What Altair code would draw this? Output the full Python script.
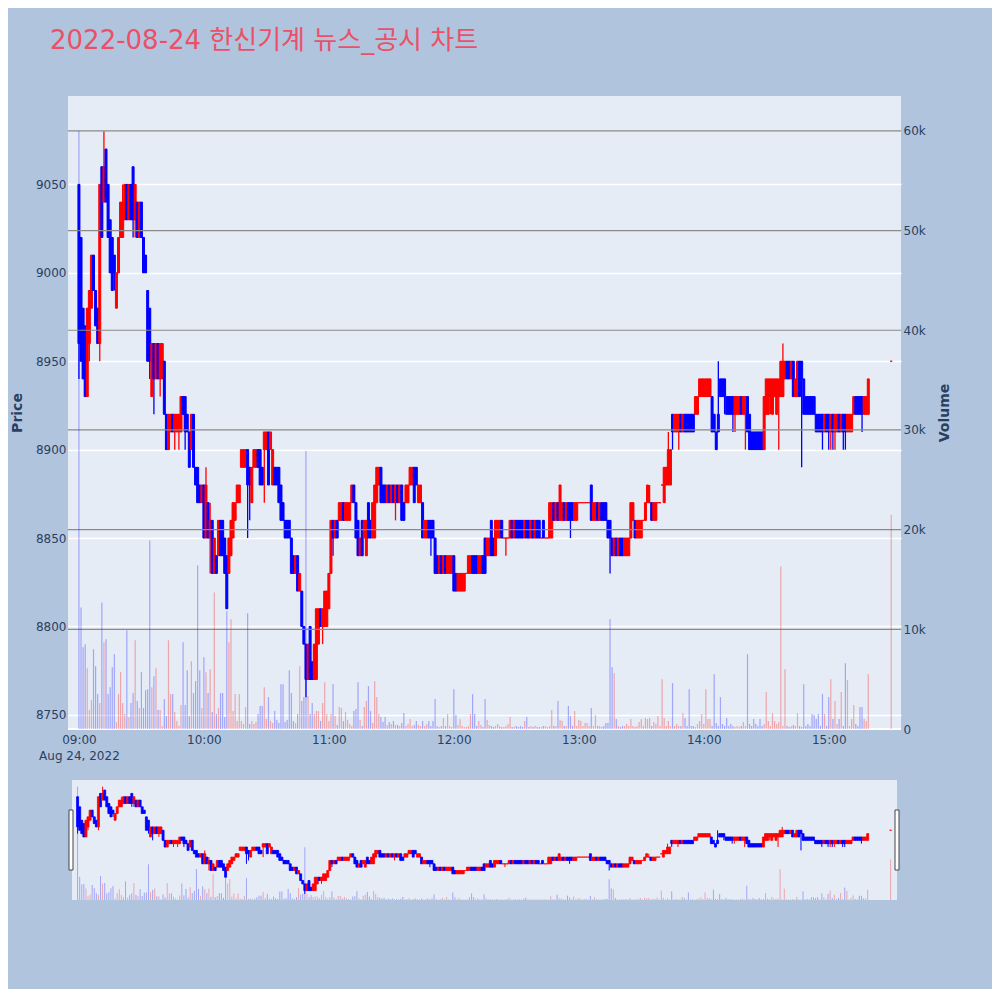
import altair as alt
import pandas as pd

TITLE = "2022-08-24 한신기계 뉴스_공시 차트"
DAY = "2022-08-24"

# (open, high, low, close) per minute
bars_09 = [
    (9050, 9050, 8940, 8960), (9020, 9020, 8950, 8950), (8980, 8980, 8940, 8940), (8970, 8970, 8930, 8930), (8930, 8980, 8930, 8980),
    (8960, 8990, 8950, 8990), (8980, 9010, 8980, 9010), (9010, 9010, 8990, 8990), (8990, 8990, 8970, 8970), (8980, 8980, 8960, 8960),
    (8960, 9050, 8950, 9050), (9060, 9060, 9020, 9020), (9040, 9080, 9040, 9060), (9070, 9070, 9040, 9040), (9050, 9050, 9020, 9020),
    (9030, 9030, 9000, 9000), (9020, 9020, 8990, 8990), (9010, 9010, 8990, 9000), (8980, 9000, 8980, 9000), (9000, 9020, 9000, 9020),
    (9020, 9040, 9020, 9040), (9020, 9050, 9020, 9040), (9030, 9050, 9030, 9050), (9050, 9050, 9030, 9030), (9030, 9050, 9030, 9050),
    (9050, 9050, 9030, 9030), (9060, 9060, 9020, 9030), (9030, 9050, 9020, 9050), (9040, 9040, 9020, 9020), (9020, 9040, 9020, 9040),
    (9040, 9040, 9020, 9020), (9020, 9020, 9000, 9000), (9010, 9010, 9000, 9000), (8990, 8990, 8950, 8950), (8980, 8980, 8940, 8950),
    (8930, 8960, 8930, 8960), (8960, 8960, 8920, 8940), (8940, 8960, 8940, 8960), (8960, 8960, 8940, 8940), (8940, 8960, 8930, 8960),
    (8940, 8960, 8940, 8960), (8950, 8950, 8920, 8920), (8920, 8920, 8900, 8900), (8900, 8920, 8900, 8920), (8910, 8920, 8910, 8920),
    (8920, 8920, 8910, 8910), (8910, 8920, 8900, 8920), (8910, 8920, 8910, 8920), (8910, 8920, 8900, 8920), (8910, 8930, 8910, 8930),
    (8930, 8930, 8920, 8920), (8930, 8930, 8900, 8910), (8920, 8920, 8910, 8910), (8910, 8910, 8890, 8890), (8900, 8920, 8900, 8920),
    (8920, 8920, 8890, 8890), (8890, 8890, 8880, 8880), (8890, 8890, 8870, 8870), (8880, 8880, 8870, 8870), (8870, 8880, 8870, 8880),
]
bars_10 = [
    (8880, 8880, 8850, 8850), (8850, 8890, 8850, 8880), (8870, 8870, 8850, 8850), (8850, 8870, 8830, 8860), (8860, 8860, 8830, 8830),
    (8830, 8850, 8830, 8850), (8840, 8840, 8830, 8830), (8840, 8860, 8840, 8860), (8860, 8860, 8840, 8840), (8860, 8860, 8840, 8840),
    (8850, 8850, 8830, 8830), (8840, 8840, 8810, 8810), (8830, 8850, 8830, 8850), (8840, 8860, 8840, 8860), (8850, 8870, 8850, 8870),
    (8860, 8870, 8860, 8870), (8870, 8880, 8870, 8880), (8870, 8880, 8870, 8880), (8890, 8900, 8890, 8900), (8890, 8900, 8890, 8900),
    (8890, 8900, 8890, 8900), (8900, 8900, 8850, 8880), (8890, 8890, 8860, 8880), (8870, 8890, 8870, 8890), (8890, 8900, 8890, 8900),
    (8890, 8900, 8890, 8900), (8900, 8900, 8890, 8890), (8900, 8900, 8880, 8880), (8890, 8890, 8880, 8880), (8900, 8910, 8870, 8910),
    (8900, 8910, 8900, 8910), (8910, 8910, 8880, 8880), (8900, 8910, 8900, 8910), (8880, 8900, 8880, 8900), (8890, 8890, 8880, 8880),
    (8890, 8890, 8880, 8880), (8890, 8890, 8870, 8870), (8880, 8880, 8860, 8860), (8870, 8870, 8860, 8860), (8860, 8860, 8850, 8850),
    (8860, 8860, 8850, 8850), (8860, 8860, 8850, 8850), (8850, 8850, 8830, 8830), (8840, 8840, 8830, 8830), (8830, 8840, 8830, 8840),
    (8840, 8840, 8820, 8820), (8820, 8830, 8820, 8830), (8820, 8820, 8800, 8800), (8800, 8800, 8790, 8790), (8790, 8790, 8760, 8770),
    (8770, 8790, 8770, 8790), (8800, 8800, 8770, 8770), (8780, 8780, 8770, 8770), (8770, 8790, 8770, 8790), (8770, 8810, 8770, 8810),
    (8790, 8810, 8790, 8810), (8810, 8810, 8800, 8800), (8800, 8810, 8790, 8810), (8800, 8820, 8800, 8820), (8800, 8820, 8800, 8820),
]
bars_11 = [
    (8810, 8830, 8810, 8830), (8830, 8860, 8830, 8860), (8860, 8860, 8840, 8850), (8850, 8860, 8850, 8860), (8860, 8860, 8850, 8850),
    (8860, 8870, 8860, 8870), (8860, 8870, 8860, 8870), (8870, 8870, 8860, 8860), (8860, 8870, 8860, 8870), (8860, 8870, 8860, 8870),
    (8860, 8870, 8860, 8870), (8870, 8880, 8870, 8880), (8880, 8880, 8870, 8870), (8870, 8870, 8850, 8850), (8860, 8860, 8840, 8840),
    (8840, 8850, 8840, 8850), (8860, 8860, 8840, 8840), (8850, 8860, 8850, 8860), (8840, 8860, 8840, 8860), (8870, 8870, 8850, 8850),
    (8860, 8860, 8850, 8850), (8850, 8870, 8850, 8870), (8850, 8880, 8850, 8880), (8870, 8890, 8870, 8890), (8880, 8890, 8880, 8890),
    (8890, 8890, 8870, 8870), (8880, 8880, 8870, 8870), (8880, 8880, 8870, 8870), (8870, 8880, 8870, 8880), (8880, 8880, 8870, 8870),
    (8870, 8880, 8870, 8880), (8880, 8880, 8870, 8870), (8870, 8880, 8860, 8880), (8880, 8880, 8870, 8870), (8870, 8880, 8870, 8880),
    (8880, 8880, 8860, 8860), (8870, 8870, 8860, 8860), (8870, 8880, 8870, 8880), (8870, 8880, 8870, 8880), (8880, 8890, 8880, 8890),
    (8880, 8890, 8880, 8890), (8890, 8890, 8870, 8870), (8890, 8890, 8880, 8880), (8870, 8880, 8870, 8880), (8870, 8880, 8870, 8880),
    (8870, 8870, 8850, 8850), (8850, 8860, 8850, 8860), (8850, 8860, 8850, 8860), (8860, 8860, 8850, 8850), (8860, 8860, 8840, 8850),
    (8860, 8860, 8850, 8850), (8850, 8850, 8830, 8830), (8840, 8840, 8830, 8830), (8830, 8840, 8830, 8840), (8840, 8840, 8830, 8830),
    (8830, 8840, 8830, 8840), (8840, 8840, 8830, 8830), (8830, 8840, 8830, 8840), (8830, 8840, 8830, 8840), (8830, 8840, 8830, 8840),
]
bars_12 = [
    (8840, 8840, 8820, 8820), (8830, 8830, 8820, 8820), (8820, 8830, 8820, 8830), (8820, 8830, 8820, 8830), (8820, 8830, 8820, 8830),
    (8820, 8830, 8820, 8830), (8830, 8830, 8830, 8830), (8830, 8840, 8830, 8840), (8830, 8840, 8830, 8840), (8840, 8840, 8830, 8830),
    (8840, 8840, 8830, 8830), (8840, 8840, 8830, 8830), (8830, 8840, 8830, 8840), (8830, 8840, 8830, 8840), (8840, 8840, 8830, 8830),
    (8850, 8850, 8830, 8830), (8840, 8850, 8840, 8850), (8840, 8850, 8840, 8850), (8860, 8860, 8840, 8840), (8850, 8850, 8840, 8840),
    (8840, 8860, 8840, 8860), (8850, 8860, 8850, 8860), (8850, 8860, 8850, 8860), (8860, 8860, 8850, 8850), (8850, 8850, 8850, 8850),
    (8850, 8850, 8840, 8850), (8850, 8850, 8850, 8850), (8850, 8860, 8850, 8860), (8860, 8860, 8850, 8850), (8850, 8860, 8850, 8860),
    (8860, 8860, 8850, 8850), (8860, 8860, 8850, 8850), (8860, 8860, 8850, 8850), (8860, 8860, 8850, 8850), (8850, 8860, 8850, 8860),
    (8860, 8860, 8850, 8850), (8860, 8860, 8850, 8850), (8850, 8860, 8850, 8860), (8860, 8860, 8850, 8850), (8850, 8860, 8850, 8860),
    (8860, 8860, 8850, 8850), (8860, 8860, 8850, 8850), (8850, 8850, 8850, 8850), (8860, 8860, 8850, 8850), (8850, 8850, 8850, 8850),
    (8850, 8850, 8850, 8850), (8850, 8870, 8850, 8870), (8850, 8870, 8850, 8870), (8870, 8870, 8860, 8860), (8860, 8870, 8860, 8870),
    (8870, 8870, 8860, 8860), (8860, 8880, 8860, 8880), (8860, 8870, 8860, 8870), (8870, 8870, 8860, 8860), (8860, 8870, 8860, 8870),
    (8870, 8870, 8860, 8860), (8870, 8870, 8850, 8860), (8870, 8870, 8860, 8860), (8860, 8870, 8860, 8870), (8860, 8870, 8860, 8870),
]
bars_13 = [
    (8870, 8870, 8870, 8870), (8870, 8870, 8870, 8870), (8870, 8870, 8870, 8870), (8870, 8870, 8870, 8870), (8870, 8870, 8870, 8870),
    (8870, 8870, 8870, 8870), (8880, 8880, 8860, 8860), (8860, 8870, 8860, 8870), (8860, 8870, 8860, 8870), (8870, 8870, 8860, 8860),
    (8860, 8870, 8860, 8870), (8870, 8870, 8860, 8860), (8870, 8870, 8860, 8860), (8870, 8870, 8860, 8860), (8860, 8860, 8850, 8850),
    (8860, 8860, 8830, 8850), (8850, 8850, 8840, 8840), (8840, 8850, 8840, 8850), (8850, 8850, 8840, 8840), (8840, 8850, 8840, 8850),
    (8850, 8850, 8840, 8840), (8850, 8850, 8840, 8840), (8840, 8850, 8840, 8850), (8840, 8850, 8840, 8850), (8840, 8850, 8840, 8850),
    (8850, 8870, 8850, 8870), (8860, 8870, 8860, 8870), (8860, 8860, 8850, 8850), (8850, 8860, 8850, 8860), (8850, 8860, 8850, 8860),
    (8850, 8860, 8850, 8860), (8860, 8860, 8860, 8860), (8860, 8870, 8860, 8870), (8870, 8880, 8870, 8880), (8870, 8880, 8870, 8870),
    (8870, 8870, 8860, 8860), (8860, 8870, 8860, 8870), (8860, 8870, 8860, 8870), (8870, 8870, 8870, 8870), (8870, 8870, 8870, 8870),
    (8880, 8880, 8880, 8880), (8870, 8890, 8870, 8890), (8880, 8890, 8880, 8890), (8880, 8910, 8880, 8900), (8880, 8900, 8880, 8900),
    (8920, 8920, 8900, 8910), (8910, 8920, 8910, 8920), (8910, 8920, 8910, 8920), (8910, 8920, 8900, 8920), (8920, 8920, 8910, 8910),
    (8910, 8920, 8910, 8920), (8920, 8920, 8910, 8910), (8920, 8920, 8910, 8910), (8920, 8920, 8910, 8910), (8920, 8920, 8910, 8910),
    (8920, 8920, 8910, 8910), (8920, 8930, 8920, 8930), (8920, 8930, 8920, 8930), (8930, 8940, 8930, 8940), (8930, 8940, 8930, 8940),
]
bars_14 = [
    (8930, 8940, 8930, 8940), (8930, 8940, 8930, 8940), (8930, 8940, 8930, 8940), (8930, 8940, 8930, 8940), (8930, 8930, 8910, 8910),
    (8920, 8920, 8910, 8910), (8910, 8910, 8900, 8900), (8920, 8950, 8910, 8910), (8940, 8940, 8930, 8930), (8940, 8940, 8930, 8930),
    (8940, 8940, 8920, 8930), (8930, 8930, 8920, 8920), (8930, 8930, 8920, 8920), (8930, 8930, 8920, 8920), (8930, 8930, 8910, 8920),
    (8920, 8930, 8910, 8930), (8920, 8930, 8920, 8930), (8920, 8930, 8920, 8930), (8930, 8930, 8920, 8920), (8920, 8930, 8920, 8930),
    (8920, 8930, 8900, 8930), (8930, 8930, 8910, 8910), (8920, 8920, 8900, 8900), (8910, 8910, 8900, 8900), (8910, 8910, 8900, 8900),
    (8910, 8910, 8900, 8900), (8910, 8910, 8900, 8900), (8910, 8910, 8900, 8900), (8910, 8910, 8900, 8900), (8900, 8930, 8900, 8930),
    (8920, 8940, 8920, 8940), (8920, 8940, 8920, 8940), (8930, 8940, 8920, 8940), (8920, 8940, 8920, 8940), (8930, 8940, 8930, 8940),
    (8920, 8940, 8920, 8940), (8930, 8940, 8900, 8940), (8930, 8950, 8930, 8950), (8930, 8960, 8930, 8950), (8940, 8950, 8940, 8950),
    (8950, 8950, 8940, 8940), (8950, 8950, 8940, 8940), (8940, 8950, 8940, 8950), (8950, 8950, 8930, 8930), (8930, 8940, 8930, 8940),
    (8930, 8950, 8930, 8950), (8950, 8950, 8930, 8930), (8950, 8950, 8890, 8940), (8940, 8940, 8920, 8920), (8930, 8930, 8920, 8920),
    (8930, 8930, 8920, 8920), (8930, 8930, 8920, 8920), (8930, 8930, 8920, 8920), (8930, 8930, 8920, 8920), (8920, 8920, 8910, 8910),
    (8920, 8920, 8910, 8910), (8920, 8920, 8910, 8910), (8920, 8920, 8900, 8910), (8910, 8920, 8910, 8920), (8920, 8920, 8910, 8910),
]
bars_15 = [
    (8920, 8920, 8900, 8910), (8910, 8920, 8900, 8920), (8920, 8920, 8900, 8910), (8910, 8920, 8900, 8920), (8910, 8920, 8910, 8920),
    (8920, 8920, 8910, 8910), (8910, 8920, 8910, 8920), (8920, 8920, 8900, 8910), (8920, 8920, 8900, 8910), (8910, 8920, 8910, 8920),
    (8910, 8920, 8910, 8920), (8910, 8920, 8910, 8920), (8920, 8930, 8920, 8930), (8930, 8930, 8920, 8920), (8930, 8930, 8920, 8920),
    (8930, 8930, 8920, 8920), (8930, 8930, 8910, 8920), (8920, 8930, 8920, 8930), (8920, 8930, 8920, 8930), (8920, 8940, 8920, 8940),
]
auction_bar = (8950, 8950, 8950, 8950)   # 15:30 closing single price

vol_09 = [60000, 12200, 8200, 8500, 6100, 1900, 2900, 8000, 6300, 3500,
          2600, 12700, 8700, 9000, 3500, 4200, 6200, 7500, 700, 3500,
          5700, 2600, 1500, 9900, 1200, 2600, 3600, 8900, 2800, 2100,
          5700, 2100, 3900, 4000, 18900, 4200, 5300, 6100, 1900, 1900,
          300, 3000, 1300, 8900, 3500, 3500, 1700, 800, 300, 2400,
          8700, 2400, 5900, 1300, 6800, 3600, 4800, 16400, 5900, 2100]
vol_10 = [7200, 5700, 3600, 6000, 1700, 13700, 1500, 2100, 3600, 3600,
          1200, 11800, 8700, 11000, 1800, 3500, 800, 3500, 800, 500,
          2200, 11600, 500, 800, 500, 700, 1500, 2300, 2300, 4200,
          1000, 3200, 800, 600, 1800, 900, 600, 4500, 4500, 700,
          900, 5900, 3600, 800, 600, 1500, 6300, 2800, 3200, 27900,
          3300, 1500, 2600, 1500, 1800, 1800, 800, 2600, 4700, 1500]
vol_11 = [800, 1500, 4500, 1300, 400, 2200, 2100, 800, 1700, 900,
          500, 300, 1800, 2000, 4700, 900, 300, 2200, 2800, 4300,
          1800, 600, 4800, 3200, 1500, 1200, 700, 1200, 400, 700,
          500, 800, 400, 400, 300, 600, 1600, 300, 500, 1000,
          300, 400, 800, 400, 300, 800, 300, 500, 800, 300,
          800, 3000, 300, 200, 300, 1100, 300, 1500, 300, 200]
vol_12 = [4000, 1400, 400, 1000, 300, 200, 200, 300, 1500, 3500,
          1500, 300, 800, 400, 200, 3000, 900, 400, 300, 200,
          300, 500, 300, 200, 200, 300, 500, 1200, 200, 200,
          300, 200, 300, 200, 800, 1200, 200, 300, 200, 300,
          200, 200, 200, 300, 300, 200, 300, 1900, 300, 300,
          2800, 900, 800, 300, 300, 2300, 1300, 300, 1800, 300]
vol_13 = [900, 800, 300, 600, 600, 300, 2100, 300, 1400, 300,
          300, 200, 300, 600, 600, 11000, 6200, 5600, 1000, 300,
          200, 300, 300, 500, 300, 1000, 300, 200, 300, 700,
          1000, 300, 1100, 1000, 1100, 300, 700, 500, 1300, 300,
          5000, 1100, 300, 800, 300, 4600, 300, 500, 300, 300,
          1600, 1100, 300, 4000, 300, 300, 200, 500, 800, 1500]
vol_14 = [500, 4000, 1000, 1000, 300, 5500, 600, 300, 3200, 500,
          300, 1100, 300, 500, 300, 200, 300, 200, 300, 700,
          300, 7500, 500, 300, 1000, 500, 300, 1000, 300, 500,
          3700, 800, 300, 1600, 800, 500, 700, 16300, 300, 6000,
          300, 200, 300, 400, 300, 1600, 300, 200, 4500, 300,
          500, 300, 1500, 1400, 1000, 1500, 300, 3500, 1500, 300]
vol_15 = [3200, 5000, 1000, 2800, 500, 1000, 3700, 300, 6600, 4900,
          300, 1000, 2400, 500, 300, 2200, 2200, 1000, 800, 5500]
auction_vol = 21500

price_ticks = [8750, 8800, 8850, 8900, 8950, 9000, 9050]
volume_ticks = [0, 10000, 20000, 30000, 40000, 50000, 60000]
volume_grid = [10000, 20000, 30000, 40000, 50000, 60000]
hour_ticks = [9, 10, 11, 12, 13, 14, 15]

rows = []
for hour, bars, vols in [(9, bars_09, vol_09), (10, bars_10, vol_10), (11, bars_11, vol_11),
                         (12, bars_12, vol_12), (13, bars_13, vol_13), (14, bars_14, vol_14),
                         (15, bars_15, vol_15)]:
    for minute, ((o, h, l, c), v) in enumerate(zip(bars, vols)):
        rows.append(dict(t=f"{DAY}T{hour:02d}:{minute:02d}:00", open=o, high=h, low=l, close=c, volume=v))
o, h, l, c = auction_bar
rows.append(dict(t=f"{DAY}T15:30:00", open=o, high=h, low=l, close=c, volume=auction_vol))
df = pd.DataFrame(rows)
df["dir"] = ["up" if cc >= oo else "down" for oo, cc in zip(df["open"], df["close"])]


def dt(hh, mm=0, ss=0):
    return alt.DateTime(year=2022, month=8, date=24, hours=hh, minutes=mm, seconds=ss)


FONT = "DejaVu Sans"
TXT = "#2a3f5f"
color_scale = alt.Scale(domain=["up", "down"], range=["#ff0000", "#0000ff"])
price_scale = alt.Scale(domain=[8742, 9100], nice=False, zero=False)
vol_scale = alt.Scale(domain=[0, 63500], nice=False)

x_main = alt.X(
    "t:T",
    scale=alt.Scale(domain=[dt(8, 57, 9), dt(15, 32, 18)]),
    axis=alt.Axis(
        values=[dt(hh) for hh in hour_ticks],
        labelExpr="hours(datum.value) == 9 ? ['09:00', 'Aug 24, 2022'] : timeFormat(datum.value, '%H:%M')",
        grid=False, ticks=False, domain=False, labelPadding=5, labelLineHeight=16,
        labelFontSize=12, labelColor=TXT, labelFont=FONT, title=None,
    ),
)
price_axis = alt.Axis(
    values=price_ticks, title="Price", format="d", grid=True, gridColor="white", gridWidth=1.3,
    ticks=False, domain=False, labelPadding=2, titlePadding=11, labelFontSize=12,
    labelColor=TXT, titleColor=TXT, titleFontSize=14, titleFontWeight="bold", labelFont=FONT, titleFont=FONT,
)
vol_axis = alt.Axis(
    values=volume_ticks, orient="right", title="Volume",
    labelExpr="datum.value == 0 ? '0' : format(datum.value / 1000, 'd') + 'k'", grid=False,
    ticks=False, domain=False, labelPadding=2, titlePadding=12, labelFontSize=12,
    labelColor=TXT, titleColor=TXT, titleFontSize=14, titleFontWeight="bold",
    titleAngle=270, titleBaseline="top", labelFont=FONT, titleFont=FONT,
)

base = alt.Chart(df)
clr = alt.Color("dir:N", scale=color_scale, legend=None)
strk = alt.Stroke("dir:N", scale=color_scale, legend=None)

wick = base.mark_rule(strokeWidth=1.3).encode(
    x=x_main, y=alt.Y("low:Q", scale=price_scale, axis=price_axis), y2="high:Q", color=clr)
body = base.mark_bar(size=2, strokeWidth=1).encode(
    x=x_main, y=alt.Y("open:Q", scale=price_scale, axis=price_axis), y2="close:Q", color=clr, stroke=strk)

vgrid = alt.Chart(pd.DataFrame({"v": volume_grid})).mark_rule(color="#8a8a8a", strokeWidth=1.2).encode(
    y=alt.Y("v:Q", scale=vol_scale, axis=vol_axis))
vzero = alt.Chart(pd.DataFrame({"v": [0]})).mark_rule(color="white", strokeWidth=2).encode(
    y=alt.Y("v:Q", scale=vol_scale, axis=vol_axis))
vbars = base.mark_rule(strokeWidth=1.2, opacity=0.3).encode(
    x=x_main, y=alt.Y("volume:Q", scale=vol_scale, axis=vol_axis), y2=alt.datum(0), color=clr)

main = alt.layer(alt.layer(wick, body), alt.layer(vgrid, vzero, vbars)).resolve_scale(
    y="independent").properties(width=833, height=633)

# range slider
x_s = alt.X("t:T", scale=alt.Scale(domain=[dt(8, 59, 43), dt(15, 30, 40)]), axis=None)
wick_s = base.mark_rule(strokeWidth=1).encode(
    x=x_s, y=alt.Y("low:Q", scale=price_scale, axis=None), y2="high:Q", color=clr)
body_s = base.mark_bar(size=2, strokeWidth=0.8).encode(
    x=x_s, y=alt.Y("open:Q", scale=price_scale, axis=None), y2="close:Q", color=clr, stroke=strk)
vbars_s = base.mark_rule(strokeWidth=1, opacity=0.3).encode(
    x=x_s, y=alt.Y("volume:Q", scale=vol_scale, axis=None), y2=alt.datum(0), color=clr)
hd = alt.Chart(pd.DataFrame({"k": [0]}))
handle_l = hd.mark_rect(fill="white", stroke="#444", strokeWidth=1).encode(
    x=alt.value(-3), x2=alt.value(1), y=alt.value(30), y2=alt.value(90))
handle_r = hd.mark_rect(fill="white", stroke="#444", strokeWidth=1).encode(
    x=alt.value(823), x2=alt.value(827), y=alt.value(30), y2=alt.value(90))
slider = alt.layer(alt.layer(wick_s, body_s), vbars_s, handle_l, handle_r).resolve_scale(
    y="independent").properties(width=825, height=120)

chart = alt.vconcat(main, slider, spacing=51, bounds="flush", center=True).properties(
    title=alt.TitleParams(
        text=TITLE, anchor="start", frame="group", dx=-18, offset=42,
        fontSize=26, font="DejaVu Sans, Noto Sans CJK KR", color="#EC5068", fontWeight="normal",
    ),
    padding={"left": 2, "top": 20, "right": 40, "bottom": 88},
    background="#B0C4DE",
).configure_view(fill="#E5ECF6", strokeWidth=0)

chart.save("out.html", embed_options={"renderer": "svg", "actions": False})
